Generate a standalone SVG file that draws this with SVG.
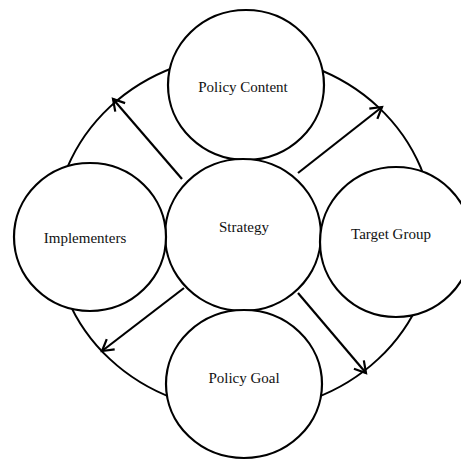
<svg xmlns="http://www.w3.org/2000/svg" width="461" height="460" viewBox="0 0 461 460">
<style>
.ring{fill:none;stroke:#000;stroke-width:2}
.node{fill:#fff;stroke:#000;stroke-width:2.2}
.lbl{font-family:"Liberation Serif","Times New Roman",serif;font-size:15px;fill:#111;text-anchor:middle}
.conn{stroke:#000;stroke-width:2.2;fill:none;marker-end:url(#arr)}
</style>
<defs>
<marker id="arr" markerUnits="userSpaceOnUse" markerWidth="16" markerHeight="16" viewBox="-13 -8 16 16" refX="0" refY="0" orient="auto">
<path d="M-11,-6.5 L0,0 L-11,6.5" fill="none" stroke="#000" stroke-width="2.2"/>
</marker>
</defs>
<rect width="461" height="460" fill="#fff"/>
<g id="outer-cycle"><ellipse class="ring" cx="244" cy="233" rx="190" ry="178"/></g>
<g id="connectors">
<line class="conn" x1="182" y1="179" x2="113" y2="99"/>
<line class="conn" x1="298" y1="173" x2="382" y2="107"/>
<line class="conn" x1="184" y1="288" x2="102" y2="351"/>
<line class="conn" x1="298" y1="293" x2="366" y2="373"/>
</g>
<g id="policy-content"><ellipse class="node" cx="246" cy="85" rx="78" ry="75"/><text class="lbl" x="243" y="92">Policy Content</text></g>
<g id="strategy"><ellipse class="node" cx="243" cy="235" rx="78" ry="76"/><text class="lbl" x="244" y="232">Strategy</text></g>
<g id="implementers"><ellipse class="node" cx="90" cy="237" rx="76" ry="74"/><text class="lbl" x="85" y="243">Implementers</text></g>
<g id="target-group"><ellipse class="node" cx="396" cy="242" rx="76" ry="75"/><text class="lbl" x="391" y="239">Target Group</text></g>
<g id="policy-goal"><ellipse class="node" cx="244" cy="384" rx="78" ry="74"/><text class="lbl" x="244" y="383">Policy Goal</text></g>
</svg>
